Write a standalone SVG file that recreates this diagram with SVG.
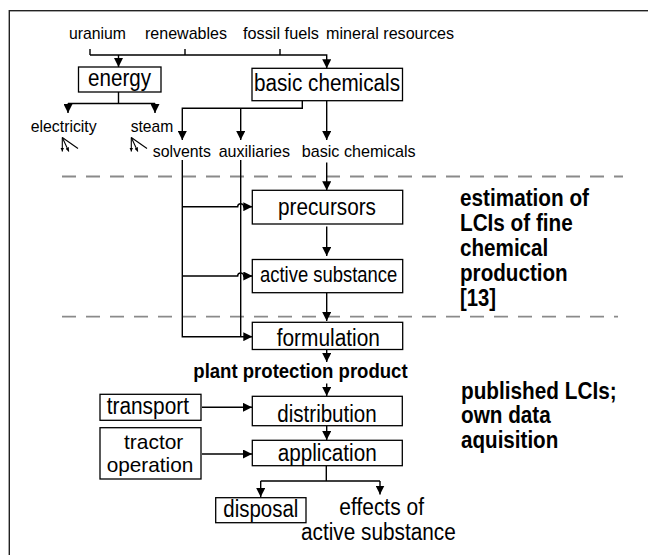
<svg xmlns="http://www.w3.org/2000/svg" width="648" height="555" viewBox="0 0 648 555">
<defs>
<style>
text{font-family:"Liberation Sans",Arial,Helvetica,sans-serif;fill:#000}
.s{font-size:17px}
.l{font-size:23px}
.t{font-size:21px}
.m{font-size:21.5px}
.bd{font-size:23px;font-weight:bold}
.bp{font-size:20px;font-weight:bold}
.box{fill:#fff;stroke:#000;stroke-width:1.3}
.ln{fill:none;stroke:#000;stroke-width:1.4}
.ar{fill:none;stroke:#000;stroke-width:1.4;marker-end:url(#ah)}
.dash{fill:none;stroke:#8a8a8a;stroke-width:1.8;stroke-dasharray:14 10}
.gl{fill:none;stroke:#000;stroke-width:1.1}
</style>
<marker id="ah" markerUnits="userSpaceOnUse" markerWidth="9" markerHeight="9" refX="9" refY="4.5" orient="auto">
<path d="M0,0 L9,4.5 L0,9 z" fill="#000"/>
</marker>
<marker id="sh" markerUnits="userSpaceOnUse" markerWidth="4" markerHeight="4" refX="4" refY="2" orient="auto">
<path d="M0,0 L4,2 L0,4 z" fill="#000"/>
</marker>
</defs>
<rect x="9.3" y="10.7" width="700" height="600" fill="#fff" stroke="#222" stroke-width="1.4"/>

<g id="separators">
<path class="dash" d="M62,176.5 H623"/>
<path class="dash" d="M62,316.7 H618"/>
</g>

<g id="connectors">
<path class="ln" d="M90,49 V55 M185,49 V55 M280,49 V55"/>
<path class="ar" d="M90,55 H326.7 V68.3"/>
<path class="ar" d="M118.5,55 V67"/>
<path class="ln" d="M118.5,92 V103.5 M68,103.5 H155"/>
<path class="ar" d="M68,103.5 V113"/>
<path class="ar" d="M155,103.5 V113"/>
<path class="ar" d="M302.3,100.7 V108.3 H182.3 V140"/>
<path class="ar" d="M240.7,108.3 V140"/>
<path class="ar" d="M326.7,100.7 V140"/>
<path class="ar" d="M182.3,160 V336.7 H252.3"/>
<path class="ln" d="M240.7,160 V336.7"/>
<path class="ar" d="M182.3,206.7 H237.7 a3,3 0 0 1 6,0 H252.3"/>
<path class="ar" d="M182.3,276 H237.7 a3,3 0 0 1 6,0 H252.3"/>
<path class="ar" d="M326.7,162.5 V190.3"/>
<path class="ar" d="M326.7,226.5 V256"/>
<path class="ar" d="M326.7,292.7 V321"/>
<path class="ar" d="M326.7,349.5 V362"/>
<path class="ar" d="M326.7,383.5 V396"/>
<path class="ar" d="M202,407.3 H252"/>
<path class="ar" d="M326.7,425.7 V440"/>
<path class="ar" d="M202,454 H252"/>
<path class="ln" d="M326.3,465.7 V481 M260.7,481 H380"/>
<path class="ar" d="M260.7,481 V497"/>
<path class="ar" d="M380,481 V494.5"/>
</g>

<g id="sources">
<text class="s" x="69" y="39.3" textLength="57" lengthAdjust="spacingAndGlyphs">uranium</text>
<text class="s" x="145" y="39.3" textLength="82" lengthAdjust="spacingAndGlyphs">renewables</text>
<text class="s" x="243" y="39.3" textLength="76" lengthAdjust="spacingAndGlyphs">fossil fuels</text>
<text class="s" x="326" y="39.3" textLength="128" lengthAdjust="spacingAndGlyphs">mineral resources</text>
</g>

<g id="energy">
<rect class="box" x="78.5" y="67" width="82.5" height="25"/>
<text class="l" x="88" y="86" textLength="63" lengthAdjust="spacingAndGlyphs">energy</text>
</g>

<g id="electricity">
<text class="s" x="30.7" y="131.7" textLength="66" lengthAdjust="spacingAndGlyphs">electricity</text>
<path class="gl" d="M62.3,137.5 L78,148.5"/>
<path class="gl" d="M62.3,137.5 V151.5" marker-end="url(#sh)"/>
<path class="gl" d="M62.3,137.5 L68.8,151.5" marker-end="url(#sh)"/>
</g>

<g id="steam">
<text class="s" x="130.7" y="131.7" textLength="42.6" lengthAdjust="spacingAndGlyphs">steam</text>
<path class="gl" d="M131.3,137.5 L147,148.5"/>
<path class="gl" d="M131.3,137.5 V151.5" marker-end="url(#sh)"/>
<path class="gl" d="M131.3,137.5 L137.8,151.5" marker-end="url(#sh)"/>
</g>

<g id="basic-chemicals">
<rect class="box" x="252" y="68.3" width="150.5" height="32.4"/>
<text class="l" x="254" y="90.5" textLength="146" lengthAdjust="spacingAndGlyphs">basic chemicals</text>
</g>

<g id="solvents">
<text class="s" x="152.7" y="156.7" textLength="58.3" lengthAdjust="spacingAndGlyphs">solvents</text>
</g>
<g id="auxiliaries">
<text class="s" x="218.7" y="156.7" textLength="71.3" lengthAdjust="spacingAndGlyphs">auxiliaries</text>
</g>
<g id="basic-chemicals-label">
<text class="s" x="301.7" y="156.7" textLength="114" lengthAdjust="spacingAndGlyphs">basic chemicals</text>
</g>

<g id="precursors">
<rect class="box" x="252.3" y="190.3" width="150.4" height="33.7"/>
<text class="l" x="278" y="215" textLength="98" lengthAdjust="spacingAndGlyphs">precursors</text>
</g>

<g id="active-substance">
<rect class="box" x="252.3" y="259.5" width="150.4" height="33.2"/>
<text class="m" x="260" y="282" textLength="137.3" lengthAdjust="spacingAndGlyphs">active substance</text>
</g>

<g id="formulation">
<rect class="box" x="252.3" y="322.3" width="150.4" height="27.2"/>
<text class="l" x="276.7" y="345.5" textLength="103.3" lengthAdjust="spacingAndGlyphs">formulation</text>
</g>

<g id="estimation-label">
<text class="bd" x="460" y="205.7" textLength="129" lengthAdjust="spacingAndGlyphs">estimation of</text>
<text class="bd" x="460" y="231" textLength="112.7" lengthAdjust="spacingAndGlyphs">LCIs of fine</text>
<text class="bd" x="460" y="256.3" textLength="88.3" lengthAdjust="spacingAndGlyphs">chemical</text>
<text class="bd" x="460" y="281" textLength="107.7" lengthAdjust="spacingAndGlyphs">production</text>
<text class="bd" x="460" y="305.5" textLength="36" lengthAdjust="spacingAndGlyphs">[13]</text>
</g>

<g id="plant-protection-product">
<text class="bp" x="193.3" y="378" textLength="214.3" lengthAdjust="spacingAndGlyphs">plant protection product</text>
</g>

<g id="transport">
<rect class="box" x="100" y="394.3" width="101" height="26"/>
<text class="l" x="106.7" y="414.3" textLength="82.3" lengthAdjust="spacingAndGlyphs">transport</text>
</g>

<g id="distribution">
<rect class="box" x="252.3" y="396.3" width="150" height="29.4"/>
<text class="l" x="277.3" y="421.5" textLength="99.4" lengthAdjust="spacingAndGlyphs">distribution</text>
</g>

<g id="tractor-operation">
<rect class="box" x="100" y="427.7" width="101" height="51.3"/>
<text class="t" x="124" y="448.5" textLength="59.3" lengthAdjust="spacingAndGlyphs">tractor</text>
<text class="t" x="106.7" y="472" textLength="86.6" lengthAdjust="spacingAndGlyphs">operation</text>
</g>

<g id="application">
<rect class="box" x="252.3" y="440.3" width="150" height="25.4"/>
<text class="l" x="277.7" y="461" textLength="99" lengthAdjust="spacingAndGlyphs">application</text>
</g>

<g id="published-label">
<text class="bd" x="461" y="399.3" textLength="155.7" lengthAdjust="spacingAndGlyphs">published LCIs;</text>
<text class="bd" x="461" y="423.3" textLength="89.7" lengthAdjust="spacingAndGlyphs">own data</text>
<text class="bd" x="461" y="447.5" textLength="97.3" lengthAdjust="spacingAndGlyphs">aquisition</text>
</g>

<g id="disposal">
<rect class="box" x="215.7" y="497.7" width="90.3" height="25"/>
<text class="l" x="223.3" y="516.7" textLength="75" lengthAdjust="spacingAndGlyphs">disposal</text>
</g>

<g id="effects">
<text class="l" x="339.3" y="515" textLength="84.7" lengthAdjust="spacingAndGlyphs">effects of</text>
<text class="l" x="301" y="540" textLength="154.7" lengthAdjust="spacingAndGlyphs">active substance</text>
</g>
</svg>
